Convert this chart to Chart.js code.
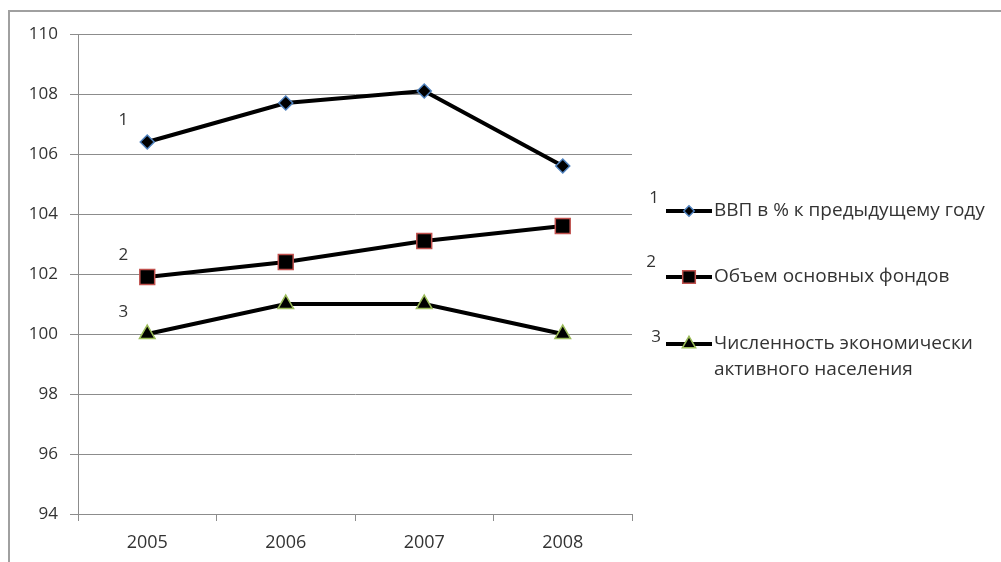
<!DOCTYPE html>
<html>
<head>
<meta charset="utf-8">
<script src="https://cdn.jsdelivr.net/npm/chart.js@4/dist/chart.umd.min.js"></script>
<style>
  html, body { margin: 0; padding: 0; background: #fff; }
  #wrap { width: 1001px; height: 562px; position: relative; }
</style>
</head>
<body>
<div id="wrap"><canvas id="c" width="1001" height="562"></canvas></div>
<script>
// Data
const years = ['2005', '2006', '2007', '2008'];
const gdp = [106.4, 107.7, 108.1, 105.6];
const funds = [101.9, 102.4, 103.1, 103.6];
const labour = [100, 101, 101, 100];
const seriesNumbers = ['1', '2', '3'];
const seriesNames = [
  ['ВВП в % к предыдущему году'],
  ['Объем основных фондов'],
  ['Численность экономически', 'активного населения']
];
const yMin = 94, yMax = 110, yStep = 2;

const FONT = '"Open Sans", "Noto Sans", sans-serif';
const TEXT = '#333333';
const GRID = '#8c8c8c';

const markers = [
  { style: 'rectRot', radius: 7, stroke: '#4f81bd' },
  { style: 'rect', radius: 10.5, stroke: '#c0504d' },
  { style: 'triangle', radius: 9, stroke: '#9bbb59' }
];

function drawMarker(ctx, m, x, y, scale) {
  const r = m.radius * scale;
  ctx.save();
  ctx.beginPath();
  if (m.style === 'rectRot') {
    ctx.moveTo(x, y - r); ctx.lineTo(x + r, y); ctx.lineTo(x, y + r); ctx.lineTo(x - r, y);
  } else if (m.style === 'rect') {
    const s = r * Math.SQRT1_2;
    ctx.rect(x - s, y - s, 2 * s, 2 * s);
  } else {
    const h = r * Math.sqrt(3) / 2;
    ctx.moveTo(x, y - r); ctx.lineTo(x + h, y + r / 2); ctx.lineTo(x - h, y + r / 2);
  }
  ctx.closePath();
  ctx.fillStyle = '#000';
  ctx.fill();
  ctx.lineWidth = 1.5;
  ctx.strokeStyle = m.stroke;
  ctx.stroke();
  ctx.restore();
}

// Outer frame, series numbers next to the first points, and the legend
const decorations = {
  id: 'decorations',
  beforeDraw(chart) {
    const ctx = chart.ctx;
    ctx.save();
    ctx.fillStyle = '#fff';
    ctx.fillRect(0, 0, chart.width, chart.height);
    ctx.strokeStyle = '#a0a0a0';
    ctx.lineWidth = 2;
    ctx.beginPath();
    ctx.moveTo(9, chart.height);
    ctx.lineTo(9, 11);
    ctx.lineTo(chart.width, 11);
    ctx.stroke();
    ctx.restore();
  },
  afterDraw(chart) {
    const ctx = chart.ctx;
    ctx.save();
    ctx.font = '17px ' + FONT;
    ctx.fillStyle = TEXT;
    ctx.textAlign = 'center';
    ctx.textBaseline = 'middle';
    chart.data.datasets.forEach((ds, i) => {
      const p = chart.getDatasetMeta(i).data[0];
      ctx.fillText(seriesNumbers[i], p.x - 24, p.y - 22);
    });

    // legend
    const rows = [211, 277, 344];
    const numPos = [[654, 198], [651, 262], [656, 337]];
    rows.forEach((y, i) => {
      ctx.font = '17px ' + FONT;
      ctx.fillStyle = TEXT;
      ctx.textAlign = 'center';
      ctx.fillText(seriesNumbers[i], numPos[i][0], numPos[i][1]);
      ctx.strokeStyle = '#000';
      ctx.lineWidth = 4;
      ctx.beginPath();
      ctx.moveTo(666, y);
      ctx.lineTo(712, y);
      ctx.stroke();
      drawMarker(ctx, markers[i], 689, y, i === 0 ? 0.75 : 0.85);
      ctx.font = '19px ' + FONT;
      ctx.fillStyle = TEXT;
      ctx.textAlign = 'left';
      seriesNames[i].forEach((line, k) => {
        ctx.fillText(line, 714, y + k * 26);
      });
    });
    ctx.restore();
  }
};

const mkSet = (label, data, i) => ({
  label,
  data,
  borderColor: '#000',
  borderWidth: 4,
  tension: 0,
  pointStyle: markers[i].style,
  pointRadius: markers[i].radius,
  pointHoverRadius: markers[i].radius,
  pointBackgroundColor: '#000',
  pointBorderColor: markers[i].stroke,
  pointBorderWidth: 1.5
});

new Chart(document.getElementById('c'), {
  type: 'line',
  data: {
    labels: years,
    datasets: [
      mkSet(seriesNames[0].join(' '), gdp, 0),
      mkSet(seriesNames[1].join(' '), funds, 1),
      mkSet(seriesNames[2].join(' '), labour, 2)
    ]
  },
  options: {
    responsive: false,
    animation: false,
    devicePixelRatio: 1,
    layout: { padding: { left: 0, top: 34, right: 369, bottom: 0 } },
    plugins: { legend: { display: false }, tooltip: { enabled: false } },
    scales: {
      x: {
        type: 'category',
        offset: true,
        grid: { offset: true, drawOnChartArea: false, tickLength: 7, color: GRID },
        border: { color: GRID, width: 1 },
        ticks: { font: { family: FONT, size: 18 }, color: TEXT, padding: 11, maxRotation: 0 },
        afterFit(s) { s.height = 48; }
      },
      y: {
        min: yMin,
        max: yMax,
        ticks: { stepSize: yStep, font: { family: FONT, size: 17 }, color: TEXT, padding: 12 },
        grid: { color: GRID, tickLength: 8 },
        border: { color: GRID, width: 1 },
        afterFit(s) { s.width = 78; }
      }
    }
  },
  plugins: [decorations]
});
</script>
</body>
</html>
